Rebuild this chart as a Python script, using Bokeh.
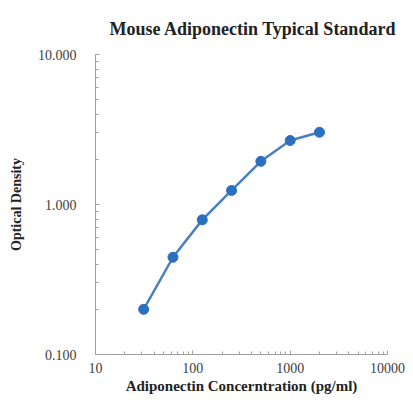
from bokeh.plotting import figure
from bokeh.models import FixedTicker, PrintfTickFormatter, ColumnDataSource
from bokeh.embed import file_html
from bokeh.resources import INLINE

concentration = [31.25, 62.5, 125, 250, 500, 1000, 2000]
optical_density = [0.200, 0.445, 0.79, 1.24, 1.94, 2.67, 3.03]
x_ticks = [10, 100, 1000, 10000]
y_ticks = [0.1, 1, 10]

x_minor = [m * d for d in (10, 100, 1000) for m in range(2, 10)]
y_minor = [m * d for d in (0.1, 1) for m in range(2, 10)]

src = ColumnDataSource(dict(x=concentration, y=optical_density))

p = figure(frame_width=292, frame_height=300, x_axis_type="log", y_axis_type="log",
           x_range=(10, 10000), y_range=(0.1, 10),
           output_backend="svg", toolbar_location=None,
           title="Mouse Adiponectin Typical Standard",
           min_border_left=95, min_border_right=18, min_border_top=54, min_border_bottom=41)

p.title.text_font = "Liberation Serif"
p.title.text_font_size = "18px"
p.title.text_font_style = "bold"
p.title.align = "left"
p.title.offset = 14
p.title.standoff = 32
p.title.text_color = "#222222"

p.xgrid.visible = False
p.ygrid.visible = False
p.outline_line_color = None

p.line("x", "y", source=src, line_color="#4a7fc0", line_width=2.5)
p.scatter("x", "y", source=src, size=10, fill_color="#2a6fc0", line_color="#2a6fc0")

p.xaxis.ticker = FixedTicker(ticks=x_ticks, minor_ticks=x_minor)
p.yaxis.ticker = FixedTicker(ticks=y_ticks, minor_ticks=y_minor)
p.xaxis.formatter = PrintfTickFormatter(format="%d")
p.yaxis.formatter = PrintfTickFormatter(format="%.3f")

for ax in (p.xaxis[0], p.yaxis[0]):
    ax.axis_line_color = "#a0a0a0"
    ax.major_tick_line_color = "#a0a0a0"
    ax.minor_tick_line_color = "#a0a0a0"
    ax.major_tick_in = 4
    ax.major_tick_out = 0
    ax.minor_tick_in = 3
    ax.minor_tick_out = 0
    ax.major_label_text_font = "Liberation Serif"
    ax.major_label_text_font_size = "14px"
    ax.major_label_text_color = "#404040"
    ax.axis_label_text_font = "Liberation Serif"
    ax.axis_label_text_font_style = "bold"
    ax.axis_label_text_color = "#222222"

p.xaxis.axis_label_text_font_size = "15px"
p.yaxis.axis_label_text_font_size = "14px"
p.xaxis.axis_label = "Adiponectin Concerntration (pg/ml)"
p.yaxis.axis_label = "Optical Density"
p.xaxis.major_label_standoff = 8
p.yaxis.major_label_standoff = 19
p.xaxis.axis_label_standoff = 2
p.yaxis.axis_label_standoff = 11

open("out.html", "w").write(file_html(p, INLINE))
